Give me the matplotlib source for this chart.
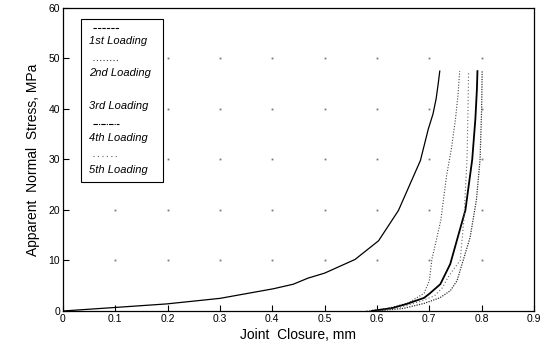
import matplotlib
matplotlib.use("Agg")
import matplotlib.pyplot as plt
import numpy as np
from matplotlib.lines import Line2D
from matplotlib.patches import Rectangle

plt.rcParams['font.family'] = ['Liberation Sans', 'DejaVu Sans']

# Joint closure (mm) and apparent normal stress (MPa) per loading cycle
load1_x = [0.0, 0.05, 0.1, 0.198, 0.3, 0.402, 0.44, 0.468, 0.5, 0.558, 0.603, 0.641, 0.683, 0.698, 0.707, 0.713, 0.717, 0.72]
load1_y = [0.0, 0.35, 0.7, 1.4, 2.5, 4.4, 5.3, 6.5, 7.5, 10.2, 13.9, 19.9, 29.8, 36.0, 39.0, 42.0, 45.0, 47.5]

load2_x = [0.58, 0.62, 0.66, 0.69, 0.70, 0.705, 0.714, 0.722, 0.733, 0.742, 0.75, 0.755, 0.758]
load2_y = [0.0, 0.5, 1.6, 3.5, 6.0, 10.3, 14.3, 18.0, 26.8, 32.0, 38.0, 43.0, 47.5]

load3_x = [0.59, 0.63, 0.657, 0.69, 0.70, 0.721, 0.74, 0.769, 0.782, 0.788, 0.791, 0.792]
load3_y = [0.0, 0.6, 1.4, 2.6, 3.4, 5.3, 9.3, 20.0, 30.0, 38.0, 44.0, 47.5]

load4_x = [0.60, 0.64, 0.68, 0.71, 0.725, 0.736, 0.748, 0.759, 0.766, 0.772, 0.774, 0.775]
load4_y = [0.0, 0.6, 1.8, 3.0, 4.6, 6.7, 8.5, 10.0, 18.0, 30.0, 40.0, 47.5]

load5_x = [0.60, 0.65, 0.69, 0.72, 0.74, 0.753, 0.778, 0.79, 0.797, 0.80, 0.801]
load5_y = [0.0, 0.5, 1.5, 2.6, 4.0, 6.0, 14.6, 22.0, 30.0, 40.0, 47.7]

labels = ['1st Loading', '2nd Loading', '3rd Loading', '4th Loading', '5th Loading']
xticks = [0, 0.1, 0.2, 0.3, 0.4, 0.5, 0.6, 0.7, 0.8, 0.9]
xticklabels = ['0', '0.1', '0.2', '0.3', '0.4', '0.5', '0.6', '0.7', '0.8', '0.9']
yticks = [0, 10, 20, 30, 40, 50, 60]

series = [(load1_x, load1_y), (load2_x, load2_y), (load3_x, load3_y), (load4_x, load4_y), (load5_x, load5_y)]
styles = [
    dict(color='black', lw=0.9, ls='-'),
    dict(color='#444444', lw=0.8, ls=(0, (1, 1.5))),
    dict(color='black', lw=1.3, ls='-'),
    dict(color='#666666', lw=0.8, ls=(0, (1, 2))),
    dict(color='#333333', lw=0.9, ls=(0, (1, 1))),
]
legend_styles = [
    dict(color='black', lw=0.8, ls=(0, (3, 1))),
    dict(color='#444444', lw=0.8, ls=(0, (1, 2))),
    dict(color='white', lw=0.8, ls='-'),
    dict(color='black', lw=0.8, ls=(0, (4, 1, 1, 1))),
    dict(color='#666666', lw=0.8, ls=(0, (1, 3))),
]

fig = plt.figure(figsize=(5.51, 3.52), dpi=100)
ax = fig.add_axes([0.1143, 0.1165, 0.8548, 0.8608])

for (x, y), st in zip(series, styles):
    ax.plot(x, y, **st)

# faint marks at grid intersections (derived from tick positions)
gx, gy = np.meshgrid(xticks[1:-1], yticks[1:-1])
ax.plot(gx.ravel(), gy.ravel(), ls='none', marker='s', ms=1.3, mew=0, color='#777777')

ax.set_xlim(0, 0.9)
ax.set_ylim(0, 60)
ax.set_xticks(xticks)
ax.set_xticklabels(xticklabels)
ax.set_yticks(yticks)
ax.tick_params(direction='in', length=4, width=0.8, labelsize=7.5, pad=2, top=False, right=False)
for s in ax.spines.values():
    s.set_linewidth(0.9)

ax.set_xlabel('Joint  Closure, mm', fontsize=10, labelpad=3)
ax.set_ylabel('Apparent  Normal  Stress, MPa', fontsize=10, labelpad=6)

# Legend box: line sample above each label
box_x0, box_x1 = 0.038, 0.213
box_y0, box_y1 = 0.425, 0.965
ax.add_patch(Rectangle((box_x0, box_y0), box_x1 - box_x0, box_y1 - box_y0,
                       transform=ax.transAxes, facecolor='white', lw=0.8, ec='black', zorder=5))
for i, (lab, st) in enumerate(zip(labels, legend_styles)):
    yl = 0.935 - i * 0.106
    ax.add_line(Line2D([box_x0 + 0.025, box_x0 + 0.08], [yl, yl], transform=ax.transAxes, zorder=6, **st))
    ax.text(box_x0 + 0.018, yl - 0.045, lab, transform=ax.transAxes, fontsize=8,
            style='italic', va='center', ha='left', zorder=6)

fig.savefig('out.png', dpi=100)
